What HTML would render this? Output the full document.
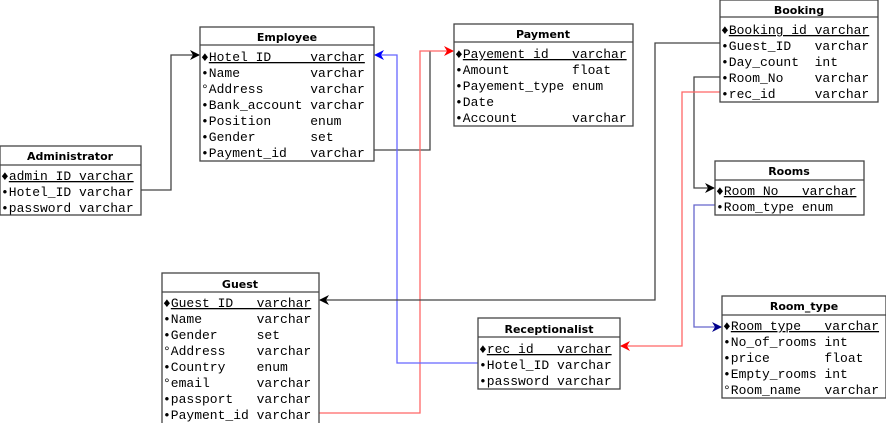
<!DOCTYPE html>
<html><head><style>
html,body{margin:0;padding:0;background:#fff;width:886px;height:423px;overflow:hidden}
svg text{font-family:"Liberation Mono",monospace;font-size:13px;fill:#000;white-space:pre}
svg text.t{font-family:"DejaVu Sans","Liberation Sans",sans-serif;font-weight:bold;font-size:11px}
</style></head><body>
<svg width="886" height="423" xmlns="http://www.w3.org/2000/svg">
<defs>
<marker id="ab" markerWidth="10" markerHeight="10" refX="9" refY="5" orient="auto" markerUnits="userSpaceOnUse"><path d="M0,0 L10,5 L0,10 L3,5z" fill="#000"/></marker>
<marker id="ar" markerWidth="10" markerHeight="10" refX="9" refY="5" orient="auto" markerUnits="userSpaceOnUse"><path d="M0,0 L10,5 L0,10 L3,5z" fill="#f00"/></marker>
<marker id="au" markerWidth="10" markerHeight="10" refX="9" refY="5" orient="auto" markerUnits="userSpaceOnUse"><path d="M0,0 L10,5 L0,10 L3,5z" fill="#00f"/></marker>
<marker id="an" markerWidth="10" markerHeight="10" refX="9" refY="5" orient="auto" markerUnits="userSpaceOnUse"><path d="M0,0 L10,5 L0,10 L3,5z" fill="#00008b"/></marker>
</defs>
<g fill="none" stroke-width="1.3">
<polyline points="141,190 171,190 171,55 199,55" stroke="#444" marker-end="url(#ab)"/>
<polyline points="374,150 430,150 430,51" stroke="#444"/>
<polyline points="319,413 420,413 420,51 453,51" stroke="#f66" marker-end="url(#ar)"/>
<polyline points="478,363 397,363 397,55 375,55" stroke="#66f" marker-end="url(#au)"/>
<polyline points="720,43 655,43 655,300 320,300" stroke="#444" marker-end="url(#ab)"/>
<polyline points="720,77 694,77 694,188 714,188" stroke="#444" marker-end="url(#ab)"/>
<polyline points="720,92 682,92 682,346 621,346" stroke="#f66" marker-end="url(#ar)"/>
<polyline points="715,205 694,205 694,327 721,327" stroke="#66c" marker-end="url(#an)"/>
</g>
<g stroke="#444" stroke-width="1.3" fill="#fff">
<rect x="200" y="27" width="174" height="134"/><line x1="200" y1="45" x2="374" y2="45"/>
<rect x="0" y="146" width="141" height="69"/><line x1="0" y1="165" x2="141" y2="165"/>
<rect x="454" y="24" width="179" height="102"/><line x1="454" y1="42" x2="633" y2="42"/>
<rect x="720" y="0" width="158" height="102"/><line x1="720" y1="17" x2="878" y2="17"/>
<rect x="715" y="161" width="149" height="54"/><line x1="715" y1="180" x2="864" y2="180"/>
<rect x="722" y="296" width="164" height="102"/><line x1="722" y1="315" x2="886" y2="315"/>
<rect x="162" y="273" width="157" height="160"/><line x1="162" y1="292" x2="319" y2="292"/>
<rect x="478" y="318" width="142" height="71"/><line x1="478" y1="337" x2="620" y2="337"/>
</g>
<text class="t" x="287" y="41" text-anchor="middle">Employee</text>
<text class="t" x="70" y="160" text-anchor="middle">Administrator</text>
<text class="t" x="543" y="38" text-anchor="middle">Payment</text>
<text class="t" x="799" y="14" text-anchor="middle">Booking</text>
<text class="t" x="789" y="175" text-anchor="middle">Rooms</text>
<text class="t" x="804" y="310" text-anchor="middle">Room_type</text>
<text class="t" x="240" y="288" text-anchor="middle">Guest</text>
<text class="t" x="549" y="333" text-anchor="middle">Receptionalist</text>
<g>
<text x="201" y="61">♦<tspan text-decoration="underline">Hotel_ID     varchar</tspan></text>
<text x="201" y="77">•Name         varchar</text>
<text x="201" y="93">°Address      varchar</text>
<text x="201" y="109">•Bank_account varchar</text>
<text x="201" y="125">•Position     enum</text>
<text x="201" y="141">•Gender       set</text>
<text x="201" y="157">•Payment_id   varchar</text>

<text x="1" y="180">♦<tspan text-decoration="underline">admin_ID varchar</tspan></text>
<text x="1" y="196">•Hotel_ID varchar</text>
<text x="1" y="212">•password varchar</text>

<text x="455" y="58">♦<tspan text-decoration="underline">Payement_id   varchar</tspan></text>
<text x="455" y="74">•Amount        float</text>
<text x="455" y="90">•Payement_type enum</text>
<text x="455" y="106">•Date</text>
<text x="455" y="122">•Account       varchar</text>

<text x="721" y="34">♦<tspan text-decoration="underline">Booking_id varchar</tspan></text>
<text x="721" y="50">•Guest_ID   varchar</text>
<text x="721" y="66">•Day_count  int</text>
<text x="721" y="82">•Room_No    varchar</text>
<text x="721" y="98">•rec_id     varchar</text>

<text x="716" y="195">♦<tspan text-decoration="underline">Room_No   varchar</tspan></text>
<text x="716" y="211">•Room_type enum</text>

<text x="723" y="330">♦<tspan text-decoration="underline">Room_type   varchar</tspan></text>
<text x="723" y="346">•No_of_rooms int</text>
<text x="723" y="362">•price       float</text>
<text x="723" y="378">•Empty_rooms int</text>
<text x="723" y="394">°Room_name   varchar</text>

<text x="163" y="307">♦<tspan text-decoration="underline">Guest_ID   varchar</tspan></text>
<text x="163" y="323">•Name       varchar</text>
<text x="163" y="339">•Gender     set</text>
<text x="163" y="355">°Address    varchar</text>
<text x="163" y="371">•Country    enum</text>
<text x="163" y="387">°email      varchar</text>
<text x="163" y="403">•passport   varchar</text>
<text x="163" y="419">•Payment_id varchar</text>

<text x="479" y="353">♦<tspan text-decoration="underline">rec_id   varchar</tspan></text>
<text x="479" y="369">•Hotel_ID varchar</text>
<text x="479" y="385">•password varchar</text>
</g>
</svg>
</body></html>
